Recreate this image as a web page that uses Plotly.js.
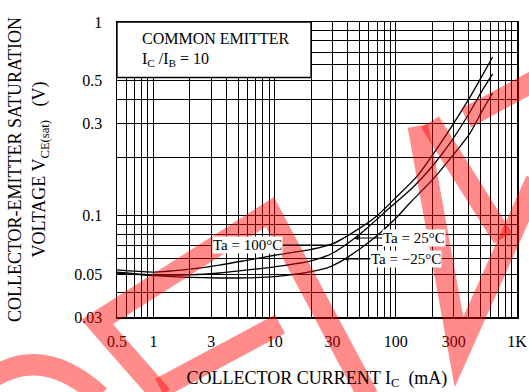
<!DOCTYPE html>
<html>
<head>
<meta charset="utf-8">
<script src="https://cdn.plot.ly/plotly-3.0.1.min.js"></script>
<style>html,body{margin:0;padding:0;background:#fff;}#chart{width:529px;height:392px;}</style>
</head>
<body>
<div id="chart"></div>
<script>
// ---- data ----
const ic100 = [0.5, 1, 2, 3.5, 6, 10, 20, 30, 50, 70, 100, 150, 200, 300, 400, 500, 630];
const vce100 = [0.0525, 0.0512, 0.053, 0.0556, 0.059, 0.0625, 0.067, 0.0715, 0.086, 0.1, 0.124, 0.16, 0.205, 0.3, 0.4, 0.51, 0.66];

const ic25 = [0.5, 1, 2, 3.5, 6, 10, 20, 30, 46, 60, 85, 140, 200, 280, 400, 520, 630];
const vce25 = [0.0512, 0.0495, 0.0495, 0.0506, 0.0525, 0.0545, 0.0585, 0.064, 0.0767, 0.088, 0.107, 0.141, 0.18, 0.237, 0.335, 0.446, 0.54];

const icm25 = [0.5, 1, 2, 3.5, 6, 10, 20, 28.6, 36.6, 61, 100, 130, 200, 320, 410, 520, 630];
const vcem25 = [0.0505, 0.049, 0.048, 0.0477, 0.0478, 0.0485, 0.0515, 0.0545, 0.059, 0.0735, 0.097, 0.116, 0.153, 0.218, 0.267, 0.351, 0.43];

const xGrid = [0.5,0.6,0.7,0.8,0.9,1,2,3,4,5,6,7,8,9,10,20,30,40,50,60,70,80,90,100,200,300,400,500,600,700,800,900,1000];
const xLabelVals = [0.5, 1, 3, 10, 30, 100, 300, 1000];
const xLabelText = ["0.5", "1", "3", "10", "30", "100", "300", "1K"];

const yGrid = [0.03,0.04,0.05,0.06,0.07,0.08,0.09,0.1,0.2,0.3,0.4,0.5,0.6,0.7,0.8,0.9,1];
const yLabelVals = [0.03, 0.05, 0.1, 0.3, 0.5, 1];
const yLabelText = ["0.03", "0.05", "0.1", "0.3", "0.5", "1"];

const seriesNames = ["Ta = 100°C", "Ta = 25°C", "Ta = −25°C"];

// ---- drawing ----
const FONT = '"Liberation Serif", "Times New Roman", serif';
const W = 529, H = 392, ML = 117, MR = 12, MT = 22, MB = 75;
const PW = W - ML - MR, PH = H - MT - MB;
function px(x) { return (x - ML) / PW; }
function py(y) { return (H - MB - y) / PH; }

const lineStyle = {color: "#000", width: 1.3, shape: "spline", smoothing: 0.8};
const traces = [
  {x: ic100, y: vce100, name: seriesNames[0]},
  {x: ic25, y: vce25, name: seriesNames[1]},
  {x: icm25, y: vcem25, name: seriesNames[2]}
].map(t => Object.assign(t, {type: "scatter", mode: "lines", line: lineStyle, hoverinfo: "skip"}));

// watermark strokes (page pixel coords)
function pathOf(pts) {
  return pts.map((p, i) => (i ? "L" : "M") + px(p[0]).toFixed(4) + "," + py(p[1]).toFixed(4)).join(" ");
}
const wm = [
  [[162, 396], [97, 322], [270, 212], [368, 396]],
  [[160, 388], [280, 324]],
  [[418, 126], [459, 352], [536, 180]],
  [[430, 122], [503, 238]],
  [[466, 118], [536, 80]]
];
const wmShapes = wm.map(p => ({
  type: "path", xref: "paper", yref: "paper", path: pathOf(p), layer: "above",
  line: {color: "rgb(255,0,0)", width: 21}, opacity: 0.45
}));
wmShapes.push({
  type: "path", xref: "paper", yref: "paper", layer: "above",
  path: "M" + px(-5) + "," + py(376) + " Q" + px(45) + "," + py(346) + " " + px(100) + "," + py(396),
  line: {color: "rgb(255,0,0)", width: 21}, opacity: 0.45
});

const shapes = [
  {type: "rect", xref: "paper", yref: "paper", x0: 0, x1: px(311), y0: py(77.5), y1: 1,
   fillcolor: "#fff", line: {color: "#000", width: 1.3}, layer: "above"}
].concat(wmShapes);

const annFont = {family: FONT, size: 15, color: "#000"};
const annotations = [
  {xref: "paper", yref: "paper", x: px(140), y: py(39), xanchor: "left", yanchor: "middle",
   text: "COMMON EMITTER", showarrow: false, font: {family: FONT, size: 16, color: "#000"}},
  {xref: "paper", yref: "paper", x: px(140), y: py(60), xanchor: "left", yanchor: "middle",
   text: "I<sub>C</sub> /I<sub>B</sub> = 10", showarrow: false, font: {family: FONT, size: 16, color: "#000"}},
  {xref: "paper", yref: "paper", x: px(333), y: py(245), ax: -50, ay: 0, xanchor: "right", yanchor: "middle",
   text: seriesNames[0], showarrow: true, arrowhead: 0, arrowwidth: 1, arrowcolor: "#000",
   bgcolor: "#fff", font: annFont, borderpad: 0},
  {xref: "paper", yref: "paper", x: px(354), y: py(238), ax: 28, ay: 0, xanchor: "left", yanchor: "middle",
   text: seriesNames[1], showarrow: true, arrowhead: 2, arrowsize: 0.9, arrowwidth: 1, arrowcolor: "#000",
   bgcolor: "#fff", font: annFont, borderpad: 0},
  {xref: "paper", yref: "paper", x: px(344), y: py(259), ax: 26, ay: 0, xanchor: "left", yanchor: "middle",
   text: seriesNames[2], showarrow: true, arrowhead: 2, arrowsize: 0.9, arrowwidth: 1, arrowcolor: "#000",
   bgcolor: "#fff", font: annFont, borderpad: 0}
];

const gridMinor = (vals) => ({tickmode: "array", tickvals: vals, showgrid: true, gridcolor: "#000", gridwidth: 1, ticks: ""});

const layout = {
  width: W, height: H,
  margin: {l: ML, r: MR, t: MT, b: MB},
  paper_bgcolor: "#fff", plot_bgcolor: "#fff",
  showlegend: false,
  font: {family: FONT, color: "#000"},
  xaxis: {
    type: "log", range: [Math.log10(0.5), 3],
    tickmode: "array", tickvals: xLabelVals, ticktext: xLabelText,
    showgrid: true, gridcolor: "#000", gridwidth: 1,
    minor: gridMinor(xGrid),
    showline: true, linecolor: "#000", linewidth: 1.5, mirror: true,
    ticks: "outside", ticklen: 9, tickcolor: "rgba(0,0,0,0)",
    tickfont: {family: FONT, size: 16, color: "#000"},
    zeroline: false, automargin: false,
    title: {text: "COLLECTOR CURRENT I<sub>C</sub>  (mA)", font: {family: FONT, size: 18, color: "#000"}, standoff: 22}
  },
  yaxis: {
    type: "log", range: [Math.log10(0.03), 0],
    tickmode: "array", tickvals: yLabelVals, ticktext: yLabelText,
    showgrid: true, gridcolor: "#000", gridwidth: 1,
    minor: gridMinor(yGrid),
    showline: true, linecolor: "#000", linewidth: 1.5, mirror: true,
    ticks: "outside", ticklen: 10, tickcolor: "rgba(0,0,0,0)",
    tickfont: {family: FONT, size: 16, color: "#000"},
    zeroline: false, automargin: false,
    title: {text: "COLLECTOR-EMITTER SATURATION<br>VOLTAGE V<sub>CE(sat)</sub>   (V)", font: {family: FONT, size: 18, color: "#000"}, standoff: 24}
  },
  shapes: shapes,
  annotations: annotations
};

Plotly.newPlot("chart", traces, layout, {staticPlot: true, displayModeBar: false});
</script>
</body>
</html>
